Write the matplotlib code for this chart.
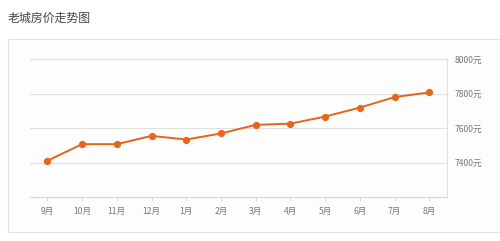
import matplotlib.pyplot as plt
from matplotlib.patches import Rectangle

plt.rcParams['font.family'] = ['Noto Sans CJK SC', 'DejaVu Sans']

months = ['9月', '10月', '11月', '12月', '1月', '2月', '3月', '4月', '5月', '6月', '7月', '8月']
prices = [7412, 7508, 7508, 7556, 7535, 7570, 7620, 7627, 7668, 7720, 7781, 7808]
y_ticks = [7400, 7600, 7800, 8000]
y_labels = ['7400元', '7600元', '7800元', '8000元']

W, H = 500, 241
fig = plt.figure(figsize=(W / 100, H / 100), dpi=100)
fig.patch.set_facecolor('white')

# title
fig.text(8 / W, 1 - 18 / H, '老城房价走势图', fontsize=8.6, color='#444444',
         ha='left', va='center')

# card frame (runs past the right edge)
fig.patches.append(Rectangle((8 / W, 1 - 232 / H), 500 / W, 193 / H,
                             transform=fig.transFigure, facecolor='#fdfdfd',
                             edgecolor='#e2e2e2', lw=0.8, zorder=-1))

ax = fig.add_axes([30 / W, 1 - 197.3 / H, (446.7 - 30) / W, (197.3 - 59.3) / H])
ax.set_facecolor('none')
ax.set_zorder(2)

x = list(range(len(months)))
ax.plot(x, prices, color='#e2651c', lw=1.4, marker='o', ms=4.2,
        markerfacecolor='#e8651a', markeredgecolor='#e8651a', zorder=3)

ax.set_xlim(-0.5, len(months) - 0.5)
ax.set_ylim(7200, 8000)
ax.set_xticks(x)
ax.set_xticklabels(months)
ax.set_yticks(y_ticks)
ax.set_yticklabels(y_labels)
ax.yaxis.tick_right()

for v in y_ticks:
    ax.axhline(v, color='#e0e0e0', lw=0.8, zorder=1)

for s in ['top', 'left']:
    ax.spines[s].set_visible(False)
ax.spines['bottom'].set_color('#d6d6d6')
ax.spines['right'].set_color('#e0e0e0')
ax.spines['bottom'].set_linewidth(0.8)
ax.spines['right'].set_linewidth(0.8)

ax.tick_params(axis='x', length=3, width=0.6, color='#d6d6d6', labelsize=6.2,
               labelcolor='#777777', pad=4)
ax.tick_params(axis='y', length=0, labelsize=6.2, labelcolor='#777777', pad=6)

fig.savefig('out.png', dpi=100, facecolor='white')
